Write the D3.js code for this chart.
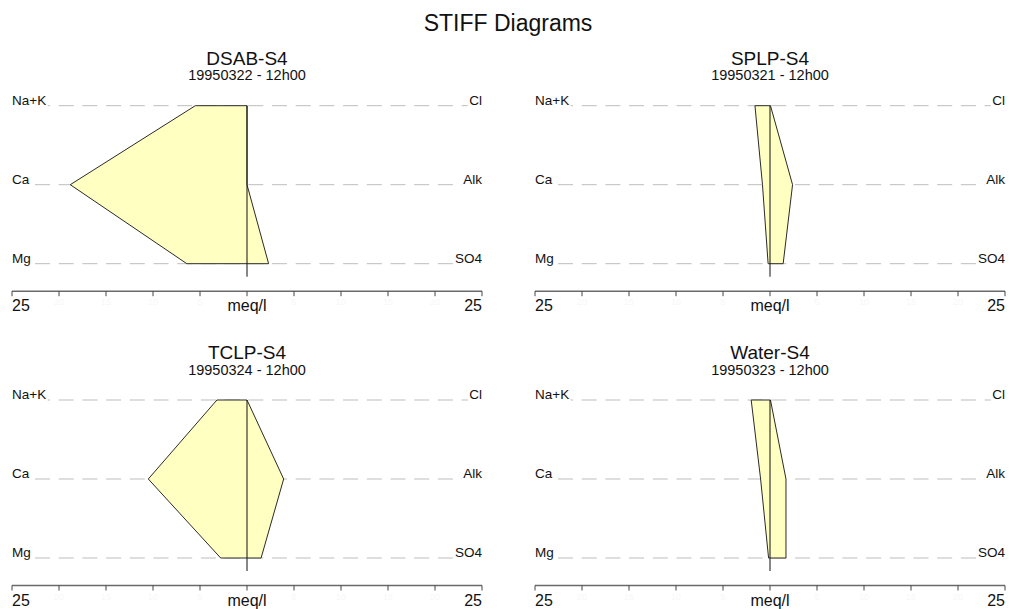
<!DOCTYPE html>
<html lang="en">
<head>
    <meta charset="UTF-8">
    <title>STIFF Diagrams</title>
    <style>
        body {
            margin: 0;
            padding: 0;
            background: #fff;
            font-family: 'Liberation Sans', Arial, sans-serif;
        }
        svg text {
            fill: #111;
        }
    </style>
</head>
<body>
    <svg width="1010" height="609"></svg>

    <script src="https://d3js.org/d3.v7.min.js"></script>
    <script>
        // Samples and their values (meq/l)
        const samples = ['DSAB-S4', 'SPLP-S4', 'TCLP-S4', 'Water-S4'];
        const dates = ['19950322 - 12h00', '19950321 - 12h00', '19950324 - 12h00', '19950323 - 12h00'];
        const cations = ['Na+K', 'Ca', 'Mg'];
        const anions = ['Cl', 'Alk', 'SO4'];
        const cationValues = [
            [5.5, 18.8, 6.4],
            [1.6, 0.8, 0.2],
            [3.2, 10.5, 2.8],
            [2.0, 1.0, 0.15]
        ];
        const anionValues = [
            [0, 0, 2.3],
            [0.05, 2.4, 1.4],
            [0, 3.9, 1.5],
            [0.05, 1.7, 1.7]
        ];
        const tickValues = [-25, -20, -15, -10, -5, 0, 5, 10, 15, 20, 25];
        const axisLabels = ['25', 'meq/l', '25'];

        const svg = d3.select('svg');

        svg.append('text')
            .attr('x', 508)
            .attr('y', 31)
            .attr('text-anchor', 'middle')
            .attr('font-size', 23)
            .text('STIFF Diagrams');

        // panel placement: 2 x 2 grid
        const colLeft = [12, 535];
        const rowTop = [105.7, 400];
        const panelWidth = 470;
        const rowSpan = 158;

        samples.forEach((name, i) => {
            const col = i % 2, row = Math.floor(i / 2);
            const x0 = colLeft[col], x1 = x0 + panelWidth;
            const top = rowTop[row];

            const x = d3.scaleLinear().domain([-25, 25]).range([x0, x1]);
            const y = d3.scalePoint().domain([0, 1, 2]).range([top, top + rowSpan]);
            const cx = x(0);
            const g = svg.append('g');

            // titles
            g.append('text')
                .attr('x', cx)
                .attr('y', top - 41)
                .attr('text-anchor', 'middle')
                .attr('font-size', 19)
                .text(name);
            g.append('text')
                .attr('x', cx)
                .attr('y', top - 25.5)
                .attr('text-anchor', 'middle')
                .attr('font-size', 14.5)
                .text(dates[i]);

            // dashed guide lines
            g.selectAll('.guide')
                .data([0, 1, 2])
                .join('line')
                    .attr('class', 'guide')
                    .attr('x1', x0 + 23)
                    .attr('x2', x1)
                    .attr('y1', d => y(d))
                    .attr('y2', d => y(d))
                    .attr('stroke', '#bdbdbd')
                    .attr('stroke-width', 1)
                    .attr('stroke-dasharray', '15,8.7');

            // ion labels with white backing so the dashes stop at the text
            const addLabel = (txt, xp, yp, anchor) => {
                const t = g.append('text')
                    .attr('x', xp)
                    .attr('y', yp)
                    .attr('text-anchor', anchor)
                    .attr('font-size', 13.5)
                    .text(txt);
                const b = t.node().getBBox();
                g.insert('rect', () => t.node())
                    .attr('x', b.x - 1.5)
                    .attr('y', b.y)
                    .attr('width', b.width + 3)
                    .attr('height', b.height + 2)
                    .attr('fill', '#fff');
            };
            cations.forEach((c, k) => addLabel(c, x0, y(k) - 1, 'start'));
            anions.forEach((a, k) => addLabel(a, x1, y(k) - 1, 'end'));

            // stiff polygon: cations on the left, anions on the right
            const pts = [];
            cationValues[i].forEach((v, k) => pts.push([x(-v), y(k)]));
            for (let k = anions.length - 1; k >= 0; k--) pts.push([x(anionValues[i][k]), y(k)]);

            g.append('path')
                .attr('d', d3.line()(pts) + 'Z')
                .attr('fill', '#ffffc2')
                .attr('stroke', '#2a2a2a')
                .attr('stroke-width', 1);

            // centre line
            g.append('line')
                .attr('x1', cx).attr('x2', cx)
                .attr('y1', y(0)).attr('y2', y(2) + 13)
                .attr('stroke', '#111')
                .attr('stroke-width', 1);

            // bottom axis
            const axisY = y(2) + 27.5;
            g.append('line')
                .attr('x1', x0).attr('x2', x1)
                .attr('y1', axisY).attr('y2', axisY)
                .attr('stroke', '#6a6a6a')
                .attr('stroke-width', 1.5);
            g.selectAll('.tick')
                .data(tickValues)
                .join('line')
                    .attr('class', 'tick')
                    .attr('x1', d => x(d)).attr('x2', d => x(d))
                    .attr('y1', axisY).attr('y2', axisY + 5)
                    .attr('stroke', '#444')
                    .attr('stroke-width', 1);
            // faint inner tick values (barely visible in the original)
            g.selectAll('.faint')
                .data(tickValues.filter(d => Math.abs(d) !== 25 && d !== 0))
                .join('text')
                    .attr('class', 'faint')
                    .attr('x', d => x(d))
                    .attr('y', axisY + 14)
                    .attr('text-anchor', 'middle')
                    .attr('font-size', 9)
                    .style('fill', '#f7f7f7')
                    .text(d => Math.abs(d));

            g.append('text')
                .attr('x', x0)
                .attr('y', axisY + 20)
                .attr('font-size', 16)
                .text(axisLabels[0]);
            g.append('text')
                .attr('x', cx)
                .attr('y', axisY + 20)
                .attr('text-anchor', 'middle')
                .attr('font-size', 16)
                .text(axisLabels[1]);
            g.append('text')
                .attr('x', x1)
                .attr('y', axisY + 20)
                .attr('text-anchor', 'end')
                .attr('font-size', 16)
                .text(axisLabels[2]);
        });
    </script>
</body>
</html>
